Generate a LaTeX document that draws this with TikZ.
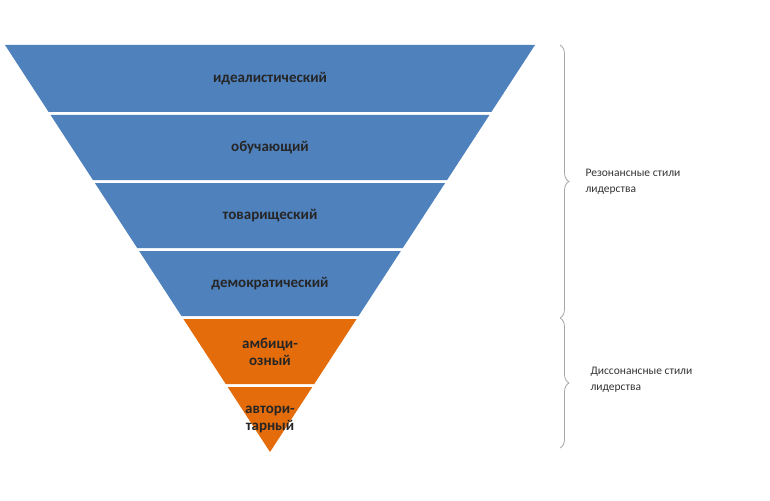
\documentclass[tikz,border=0pt]{standalone}
\usepackage{fontspec}
\setmainfont{Carlito}
\usetikzlibrary{decorations.pathreplacing}
\definecolor{bandblue}{RGB}{79,129,189}
\definecolor{bandorange}{RGB}{228,108,10}
\tikzstyle{label} = [font=\bfseries\fontsize{15}{17}\selectfont, text=black!85, align=center]
\tikzstyle{side} = [font=\fontsize{11.5}{16}\selectfont, text=black!80, align=left, anchor=west]
\tikzstyle{brace} = [draw, gray!70, thick, decorate, decoration={brace,amplitude=9pt}]

\begin{document}
\begin{tikzpicture}[x=1pt,y=-1pt]

\useasboundingbox (0,0) rectangle (770,500);

%%% %%%
% Bands
%%% %%%

\foreach \c/\t/\b/\i [count=\n] in
{bandblue/45/112/идеалистический,bandblue/115/180/обучающий,bandblue/183/248/товарищеский,bandblue/251/316/демократический,bandorange/319/384/{амбици-\\озный},bandorange/387/452/{автори-\\тарный}}
{
\pgfmathsetmacro{\wt}{0.6511*(452-\t)}
\pgfmathsetmacro{\wb}{0.6511*(452-\b)}
\fill[\c] (270-\wt,\t) -- (270+\wt,\t) -- (270+\wb,\b) -- (270-\wb,\b) -- cycle;
\node[label] at (270,{(\t+\b)/2}) (B\n) {\i};
}

%%% %%%
% Braces
%%% %%%

\coordinate (R1) at (560,45);
\coordinate (R2) at (560,318);
\coordinate (D2) at (560,448);

\draw [brace] (R1) to (R2);
\draw [brace] (R2) to (D2);

\node[side] at (582,182) (Rez) {Резонансные стили\\лидерства};
\node[side] at (587,380) (Dis) {Диссонансные стили\\лидерства};

\end{tikzpicture}
\end{document}
